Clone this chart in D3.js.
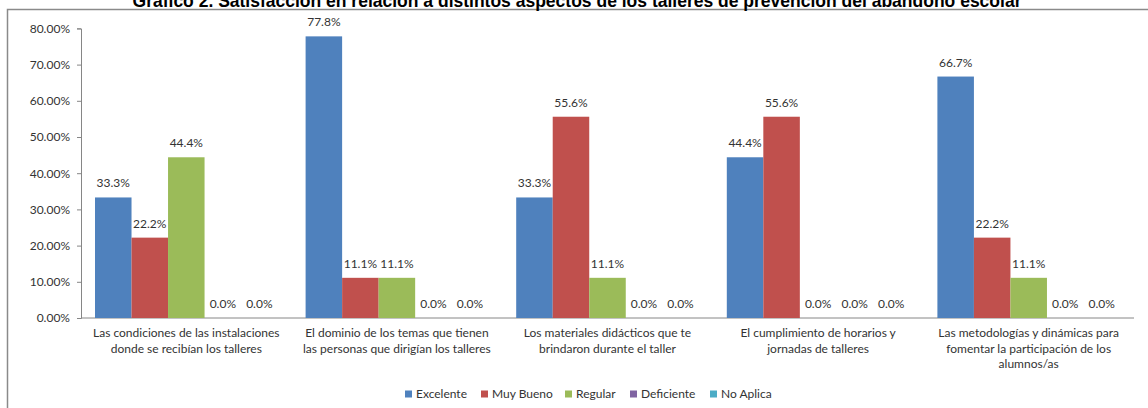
<!DOCTYPE html>
<html>
<head>
<meta charset="utf-8">
<script src="https://cdn.jsdelivr.net/npm/d3@7"></script>
<style>
  body { margin: 0; background: #fff; }
  text { font-family: Lato, "Liberation Sans", sans-serif; fill: #333; }
</style>
</head>
<body>
<div class="canvas"></div>
<script>
const title = "Gráfico 2. Satisfacción en relación a distintos aspectos de los talleres de prevención del abandono escolar";

const categories = [
  ["Las condiciones de las instalaciones", "donde se recibían los talleres"],
  ["El dominio de los temas que tienen", "las personas que dirigían los talleres"],
  ["Los materiales didácticos que te", "brindaron durante el taller"],
  ["El cumplimiento de horarios y", "jornadas de talleres"],
  ["Las metodologías y dinámicas para", "fomentar la participación de los", "alumnos/as"],
];

const series = ["Excelente", "Muy Bueno", "Regular", "Deficiente", "No Aplica"];
const colors = ["#4F81BD", "#C0504D", "#9BBB59", "#8064A2", "#4BACC6"];

// values per series, one per category (percent)
const excelente = [33.3, 77.8, 33.3, 44.4, 66.7];
const muyBueno = [22.2, 11.1, 55.6, 55.6, 22.2];
const regular = [44.4, 11.1, 11.1, 0.0, 11.1];
const deficiente = [0.0, 0.0, 0.0, 0.0, 0.0];
const noAplica = [0.0, 0.0, 0.0, 0.0, 0.0];
const values = [excelente, muyBueno, regular, deficiente, noAplica];

const yTicks = [0, 10, 20, 30, 40, 50, 60, 70, 80];

const width = 1148;
const height = 408;

const svg = d3.select(".canvas").append("svg")
  .attr("width", width)
  .attr("height", height);

// outer frame (right and bottom edges fall outside the picture)
svg.append("rect")
  .attr("x", 7.5).attr("y", 9.5)
  .attr("width", 1160).attr("height", 420)
  .attr("fill", "none")
  .attr("stroke", "#8a8a8a")
  .attr("stroke-width", 1.5);

svg.append("text")
  .attr("x", 577).attr("y", 7)
  .attr("text-anchor", "middle")
  .style("font-family", "'Liberation Sans', Arial, sans-serif")
  .style("font-weight", "bold")
  .style("font-size", "17.5px")
  .style("fill", "#000")
  .text(title);

const x = d3.scaleBand().domain(d3.range(categories.length)).range([81, 1134]);
const xs = d3.scaleBand().domain(series).range([14, x.bandwidth() - 14]);
const y = d3.scaleLinear().domain([0, 80]).range([318, 28.4]);

// y axis
const yAxis = d3.axisLeft(y)
  .tickValues(yTicks)
  .tickFormat((d) => d.toFixed(2) + "%")
  .tickSize(4)
  .tickPadding(7);

const ya = svg.append("g").attr("transform", "translate(81,0)").call(yAxis);
ya.select(".domain").attr("stroke", "#868686");
ya.selectAll(".tick line").attr("stroke", "#868686");
ya.selectAll(".tick text")
  .style("font-family", "Lato, sans-serif")
  .style("font-size", "12px")
  .attr("fill", "#333");

// x baseline
svg.append("line")
  .attr("x1", 81).attr("x2", 1134)
  .attr("y1", y(0)).attr("y2", y(0))
  .attr("stroke", "#868686");

const groups = svg.selectAll(".grp")
  .data(categories)
  .enter().append("g")
  .attr("class", "grp")
  .attr("transform", (d, i) => `translate(${x(i)},0)`);

groups.each(function (cat, ci) {
  const g = d3.select(this);
  series.forEach((s, si) => {
    const v = values[si][ci];
    g.append("rect")
      .attr("x", xs(s))
      .attr("width", xs.bandwidth())
      .attr("y", y(v))
      .attr("height", y(0) - y(v))
      .attr("fill", colors[si]);
  });
  series.forEach((s, si) => {
    const v = values[si][ci];
    // labels on every non-zero bar and on the empty trailing series
    const show = v > 0 || si >= 3 || (ci === 3 && si === 2);
    if (!show) return;
    g.append("text")
      .attr("x", xs(s) + xs.bandwidth() / 2)
      .attr("y", y(v) - 10)
      .attr("text-anchor", "middle")
      .style("font-size", "12px")
      .text(v.toFixed(1) + "%");
  });
  const lbl = g.append("text")
    .attr("x", x.bandwidth() / 2)
    .attr("y", 337)
    .attr("text-anchor", "middle")
    .style("font-size", "12px");
  cat.forEach((line, li) => {
    lbl.append("tspan")
      .attr("x", x.bandwidth() / 2)
      .attr("dy", li === 0 ? 0 : 15.5)
      .text(line);
  });
});

// legend
const legendX = [405, 481, 565, 630, 710];
const legend = svg.append("g");
series.forEach((s, i) => {
  legend.append("rect")
    .attr("x", legendX[i]).attr("y", 390.5)
    .attr("width", 7).attr("height", 7)
    .attr("fill", colors[i]);
  legend.append("text")
    .attr("x", legendX[i] + 11).attr("y", 398)
    .style("font-size", "12px")
    .text(s);
});
</script>
</body>
</html>
